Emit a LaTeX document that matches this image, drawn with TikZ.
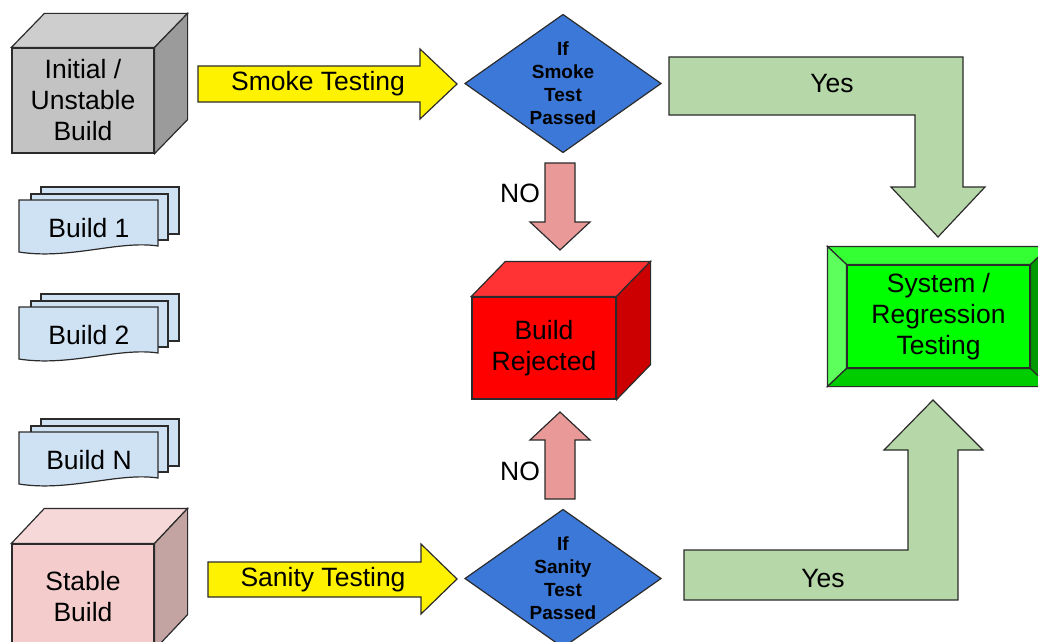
\documentclass[tikz,border=0pt]{standalone}
\usepackage{fontspec}
\setmainfont{Liberation Sans}
\usetikzlibrary{calc}

\definecolor{greyF}{HTML}{C3C3C3}
\definecolor{greyT}{HTML}{CECECE}
\definecolor{greyS}{HTML}{9B9B9B}
\definecolor{pinkF}{HTML}{F4CCCC}
\definecolor{pinkT}{HTML}{F7D8D8}
\definecolor{pinkS}{HTML}{C4A3A3}
\definecolor{redF}{HTML}{FF0000}
\definecolor{redT}{HTML}{FF3333}
\definecolor{redS}{HTML}{CC0000}
\definecolor{docblue}{HTML}{CFE2F3}
\definecolor{decblue}{HTML}{3C78D8}
\definecolor{noarrow}{HTML}{EA9999}
\definecolor{yesarrow}{HTML}{B6D7A8}
\definecolor{gMid}{HTML}{00FF00}
\definecolor{gTop}{HTML}{33FF33}
\definecolor{gLeft}{HTML}{5CFF5C}
\definecolor{gBot}{HTML}{00CC00}
\definecolor{gRight}{HTML}{009900}
\definecolor{edge}{HTML}{2B2B2B}

\tikzset{
  outline/.style={draw=edge, line width=1.2pt, line join=miter},
  lbl/.style={font=\fontsize{26.5}{31}\selectfont, align=center, inner sep=0pt, text=black},
  declbl/.style={font=\bfseries\fontsize{19}{23}\selectfont, align=center, inner sep=0pt, text=black},
  frontface/.style={outline, inner sep=0pt, font=\fontsize{26.5}{31}\selectfont, align=center},
}

% box in perspective: front face is the node, top and side faces follow it
\newcommand{\cubefaces}[4]{% #1 node, #2 palette, #3 dx, #4 dy
  \draw[outline, fill=#2T] (#1.north west) -- ++(#3,-#4) -- ([shift={(#3,-#4)}]#1.north east) -- (#1.north east) -- cycle;
  \draw[outline, fill=#2S] (#1.north east) -- ++(#3,-#4) -- ([shift={(#3,-#4)}]#1.south east) -- (#1.south east) -- cycle;
}

% stack of three pages, the front one with a wavy lower edge
\newcommand{\docstack}[4]{% #1 name, #2 left, #3 top, #4 text
  \draw[outline, fill=docblue] ({#2+22},{#3-13}) rectangle ({#2+160},{#3+34});
  \draw[outline, fill=docblue] ({#2+12},{#3-6}) rectangle ({#2+149},{#3+40});
  \draw[outline, fill=docblue] (#2,#3) -- ({#2+139},#3) -- ({#2+139},{#3+46})
     .. controls ({#2+100},{#3+40}) and ({#2+50},{#3+60}) .. (#2,{#3+52}) -- cycle;
  \node[lbl] (#1) at ({#2+70},{#3+28}) {#4};
}

% decision diamond around a bold label
\newcommand{\decision}[3]{% #1 name, #2 centre, #3 text
  \coordinate (#1-c) at #2;
  \draw[outline, fill=decblue] (#1-c) +(-98,0) -- +(0,-69) -- +(98,0) -- +(0,69) -- cycle;
  \node[declbl] (#1) at (#1-c) {#3};
}

\begin{document}
\begin{tikzpicture}[x=1pt,y=-1pt]
\useasboundingbox (0,0) rectangle (1038,642);

% --- builds on the left ---
\node[frontface, fill=greyF, minimum width=142pt, minimum height=105pt] (initial) at (83,100.5) {Initial /\\Unstable\\Build};
\cubefaces{initial}{grey}{33}{34}

\docstack{build1}{19}{200}{Build 1}
\docstack{build2}{19}{307}{Build 2}
\docstack{buildn}{19}{432}{Build N}

\node[frontface, fill=pinkF, minimum width=142pt, minimum height=105pt] (stable) at (83,596.5) {Stable\\Build};
\cubefaces{stable}{pink}{33}{35}

% --- test arrows ---
\draw[outline, fill=yellow] (198,66) -- (420,66) -- (420,49) -- (457,84) -- (420,119) -- (420,102) -- (198,102) -- cycle;
\node[lbl] (smoke) at (318,84) {Smoke Testing};

\draw[outline, fill=yellow] (208,562) -- (421,562) -- (421,544) -- (457,579) -- (421,614) -- (421,597) -- (208,597) -- cycle;
\node[lbl] (sanity) at (323,580) {Sanity Testing};

% --- decisions ---
\decision{smokeok}{(563,83.5)}{If\\Smoke\\Test\\Passed}
\decision{sanityok}{(563,578.5)}{If\\Sanity\\Test\\Passed}

% --- rejection ---
\node[frontface, fill=redF, minimum width=144pt, minimum height=102pt] (rejected) at (544,348) {Build\\Rejected};
\cubefaces{rejected}{red}{34}{35}

\draw[outline, fill=noarrow] (545,163) -- (575,163) -- (575,222) -- (590,222) -- (560,250) -- (530,222) -- (545,222) -- cycle;
\node[lbl] (no1) at (520,193) {NO};
\draw[outline, fill=noarrow] (545,499) -- (575,499) -- (575,440) -- (590,440) -- (560,412) -- (530,440) -- (545,440) -- cycle;
\node[lbl] (no2) at (520,471) {NO};

% --- passing path ---
\draw[outline, fill=yesarrow] (669,57) -- (963,57) -- (963,187) -- (985,187) -- (938,237) -- (891,187) -- (915,187) -- (915,115) -- (669,115) -- cycle;
\node[lbl] (yes1) at (832,84) {Yes};
\draw[outline, fill=yesarrow] (684,600) -- (958,600) -- (958,450) -- (983,450) -- (933,400) -- (884,450) -- (908,450) -- (908,550) -- (684,550) -- cycle;
\node[lbl] (yes2) at (823,579) {Yes};

% --- bevelled target box ---
\node[frontface, fill=gMid, minimum width=183pt, minimum height=103pt] (sysreg) at (938.5,316.5) {System /\\Regression\\Testing};
\coordinate (oNW) at ([shift={(-19,-18)}]sysreg.north west);
\coordinate (oNE) at ([shift={(19,-18)}]sysreg.north east);
\coordinate (oSW) at ([shift={(-19,18)}]sysreg.south west);
\coordinate (oSE) at ([shift={(19,18)}]sysreg.south east);
\draw[outline, fill=gTop] (oNW) -- (oNE) -- (sysreg.north east) -- (sysreg.north west) -- cycle;
\draw[outline, fill=gLeft] (oNW) -- (sysreg.north west) -- (sysreg.south west) -- (oSW) -- cycle;
\draw[outline, fill=gBot] (sysreg.south west) -- (sysreg.south east) -- (oSE) -- (oSW) -- cycle;
\draw[outline, fill=gRight] (sysreg.north east) -- (oNE) -- (oSE) -- (sysreg.south east) -- cycle;
\end{tikzpicture}
\end{document}
